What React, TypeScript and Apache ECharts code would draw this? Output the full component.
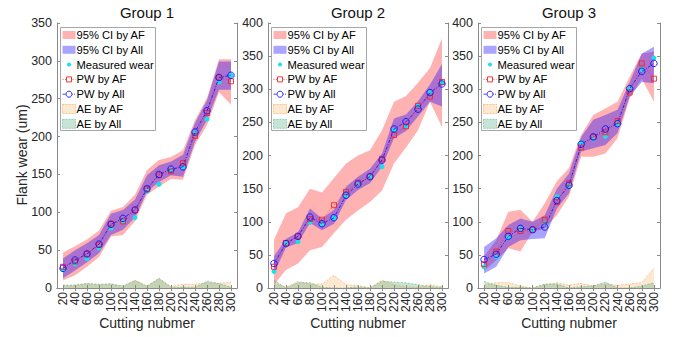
import React, { useEffect, useRef } from "react";
import * as echarts from "echarts";

const categories = ["20","40","60","80","100","120","140","160","180","200","220","240","260","280","300"];
const groupTitles = ["Group 1", "Group 2", "Group 3"];
const yMax = [350, 400, 400];

// Group 1
const measured1 = [24, 32, 39, 53, 79, 88, 93, 128, 137, 156, 160, 205, 223, 272, 281];
const pwAF1 = [28, 35, 45, 57, 85, 88, 103, 131, 149, 154, 165, 201, 231, 278, 273];
const pwAll1 = [26, 37, 45, 58, 84, 92, 103, 131, 150, 157, 160, 206, 234, 278, 281];
const ciAFLo1 = [10, 17, 28, 41, 68, 70, 88, 123, 134, 144, 143, 189, 215, 259, 242];
const ciAFHi1 = [47, 55, 64, 76, 102, 107, 123, 156, 169, 173, 182, 222, 251, 302, 302];
const ciAllLo1 = [13, 23, 34, 46, 70, 77, 93, 127, 140, 149, 147, 193, 222, 262, 262];
const ciAllHi1 = [39, 50, 59, 70, 98, 103, 117, 149, 162, 167, 176, 218, 248, 299, 299];
const aeAF1 = [4, 3, 6, 4, 6, 1, 10, 3, 12, 2, 5, 5, 7, 6, 8];
const aeAll1 = [3, 4, 6, 5, 5, 3, 10, 2, 13, 1, 1, 1, 9, 6, 1];

// Group 2
const measured2 = [25, 67, 70, 99, 97, 106, 140, 156, 168, 183, 238, 244, 275, 295, 309];
const pwAF2 = [32, 68, 78, 104, 103, 125, 145, 159, 168, 195, 231, 244, 275, 289, 311];
const pwAll2 = [37, 67, 78, 107, 97, 106, 140, 157, 168, 193, 240, 251, 270, 295, 308];
const ciAFLo2 = [5, 27, 37, 57, 62, 83, 103, 117, 130, 147, 188, 212, 238, 281, 243];
const ciAFHi2 = [73, 113, 122, 150, 144, 166, 188, 200, 208, 238, 281, 290, 310, 332, 377];
const ciAllLo2 = [22, 61, 68, 98, 87, 97, 133, 148, 158, 183, 226, 237, 259, 281, 274];
const ciAllHi2 = [48, 74, 84, 120, 105, 118, 153, 168, 180, 203, 256, 262, 282, 307, 338];
const aeAF2 = [7, 1, 10, 6, 6, 19, 5, 4, 0, 12, 5, 2, 1, 5, 2];
const aeAll2 = [12, 0, 8, 8, 1, 0, 0, 2, 0, 10, 9, 8, 5, 2, 1];

// Group 3
const measured3 = [32, 47, 76, 89, 88, 98, 138, 154, 219, 225, 229, 248, 301, 330, 347];
const pwAF3 = [36, 55, 86, 86, 88, 103, 130, 158, 212, 228, 235, 252, 295, 339, 316];
const pwAll3 = [43, 51, 78, 90, 88, 92, 132, 155, 217, 228, 240, 248, 301, 327, 339];
const ciAFLo3 = [26, 42, 60, 55, 85, 90, 110, 138, 198, 198, 203, 226, 286, 316, 281];
const ciAFHi3 = [48, 72, 115, 118, 100, 128, 161, 181, 231, 261, 271, 281, 319, 354, 357];
const ciAllLo3 = [22, 32, 62, 72, 74, 75, 120, 143, 206, 211, 216, 234, 289, 311, 309];
const ciAllHi3 = [62, 75, 95, 105, 100, 110, 150, 173, 228, 254, 261, 269, 311, 354, 364];
const aeAF3 = [4, 8, 8, 3, 0, 5, 8, 4, 7, 3, 6, 4, 6, 8, 30];
const aeAll3 = [10, 4, 1, 1, 0, 6, 6, 0, 2, 3, 9, 0, 0, 3, 8];

const legendNames = ["95% CI by AF", "95% CI by All", "Measured wear", "PW by AF", "PW by All", "AE by AF", "AE by All"];

const groups = [
  { measured: measured1, pwAF: pwAF1, pwAll: pwAll1, ciAFLo: ciAFLo1, ciAFHi: ciAFHi1, ciAllLo: ciAllLo1, ciAllHi: ciAllHi1, aeAF: aeAF1, aeAll: aeAll1 },
  { measured: measured2, pwAF: pwAF2, pwAll: pwAll2, ciAFLo: ciAFLo2, ciAFHi: ciAFHi2, ciAllLo: ciAllLo2, ciAllHi: ciAllHi2, aeAF: aeAF2, aeAll: aeAll2 },
  { measured: measured3, pwAF: pwAF3, pwAll: pwAll3, ciAFLo: ciAFLo3, ciAFHi: ciAFHi3, ciAllLo: ciAllLo3, ciAllHi: ciAllHi3, aeAF: aeAF3, aeAll: aeAll3 },
];

const FONT = "'Liberation Sans', Arial, Helvetica, sans-serif";
const PINK = "rgba(255,0,0,0.3)";
const BLUE = "rgba(20,0,255,0.36)";
const CYAN = "#19e0ea";
const ORANGE_FILL = "rgba(245,150,40,0.22)";
const ORANGE_EDGE = "rgba(240,160,80,0.7)";
const GREEN_FILL = "rgba(40,150,100,0.26)";
const GREEN_EDGE = "rgba(80,180,150,0.7)";
const AXIS = "#8a8a8a";
const LABEL = "#262626";

const gridLefts = [57, 268, 478];
const gridWidths = [180, 180, 182];
const GRID_TOP = 23;
const GRID_H = 265;

function bandSeries(g: number, lo: number[], hi: number[], color: string, z: number) {
  return {
    type: "custom",
    xAxisIndex: g * 2,
    yAxisIndex: g * 2,
    data: [[0, lo[0]]],
    silent: true,
    z,
    renderItem: (_params: any, api: any) => {
      const top = hi.map((v, i) => api.coord([i, v]));
      const bot = lo.map((v, i) => api.coord([i, v])).reverse();
      return { type: "polygon", shape: { points: top.concat(bot) }, style: { fill: color } };
    },
  };
}

function legendEls(x0: number, y0: number) {
  const els: any[] = [];
  const Z = 100;
  els.push({ type: "rect", z: Z, shape: { x: x0 + 0.5, y: y0 + 0.5, width: 95, height: 103 }, style: { fill: "#fff", stroke: "#a6a6a6", lineWidth: 1 } });
  const rowY = (i: number) => y0 + 8 + i * 14.8;
  const ix0 = x0 + 2.5, iw = 13, icx = x0 + 9;
  els.push({ type: "rect", z: Z + 1, shape: { x: ix0, y: rowY(0) - 4, width: iw, height: 8 }, style: { fill: PINK } });
  els.push({ type: "rect", z: Z + 1, shape: { x: ix0, y: rowY(1) - 4, width: iw, height: 8 }, style: { fill: BLUE } });
  els.push({ type: "circle", z: Z + 1, shape: { cx: icx, cy: rowY(2), r: 2 }, style: { fill: CYAN } });
  els.push({ type: "line", z: Z + 1, shape: { x1: ix0, y1: rowY(3), x2: ix0 + iw, y2: rowY(3) }, style: { stroke: "#ff2020", lineWidth: 0.8, lineDash: [1, 1.5] } });
  els.push({ type: "rect", z: Z + 2, shape: { x: icx - 2.5, y: rowY(3) - 2.5, width: 5, height: 5 }, style: { fill: "#fff", stroke: "#ff2020", lineWidth: 0.9 } });
  els.push({ type: "line", z: Z + 1, shape: { x1: ix0, y1: rowY(4), x2: ix0 + iw, y2: rowY(4) }, style: { stroke: "#1010ff", lineWidth: 0.8, lineDash: [3, 1.5, 1, 1.5] } });
  els.push({ type: "circle", z: Z + 2, shape: { cx: icx, cy: rowY(4), r: 3 }, style: { fill: "#fff", stroke: "#1010ff", lineWidth: 0.9 } });
  els.push({ type: "rect", z: Z + 1, shape: { x: ix0, y: rowY(5) - 4.5, width: iw, height: 9 }, style: { fill: ORANGE_FILL, stroke: ORANGE_EDGE, lineWidth: 0.8, lineDash: [2, 1] } });
  els.push({ type: "rect", z: Z + 1, shape: { x: ix0, y: rowY(6) - 4.5, width: iw, height: 9 }, style: { fill: GREEN_FILL, stroke: GREEN_EDGE, lineWidth: 0.8, lineDash: [2, 1] } });
  legendNames.forEach((name, i) => {
    els.push({
      type: "text", z: Z + 1, x: x0 + 16.5, y: rowY(i),
      style: { text: name, fill: "#000", font: `normal 11.2px ${FONT}`, textVerticalAlign: "middle", verticalAlign: "middle", textAlign: "left" },
    });
  });
  return els;
}

export default function App() {
  const ref = useRef<HTMLDivElement>(null);
  useEffect(() => {
    if (!ref.current) return;
    const chart = echarts.init(ref.current, null, { renderer: "svg" });
    const grid: any[] = [];
    const xAxis: any[] = [];
    const yAxis: any[] = [];
    const series: any[] = [];
    const graphic: any[] = [];

    groups.forEach((d, g) => {
      grid.push({ left: gridLefts[g], top: GRID_TOP, width: gridWidths[g], height: GRID_H, containLabel: false });
      const xBase = {
        type: "category", gridIndex: g, data: categories, boundaryGap: true,
        axisLine: { show: true, lineStyle: { color: AXIS, width: 1 } },
        axisTick: { show: true, inside: true, alignWithLabel: true, length: 3, interval: 0, lineStyle: { color: AXIS } },
        splitLine: { show: false },
      };
      xAxis.push({ ...xBase, position: "bottom", axisLabel: { show: true, rotate: 90, interval: 0, fontSize: 12, color: LABEL, margin: 4, fontFamily: FONT } });
      xAxis.push({ ...xBase, position: "top", axisLabel: { show: false } });
      const yBase = {
        type: "value", gridIndex: g, min: 0, max: yMax[g], interval: 50,
        axisLine: { show: true, lineStyle: { color: AXIS, width: 1 } },
        axisTick: { show: true, inside: true, length: 3, lineStyle: { color: AXIS } },
        splitLine: { show: false },
      };
      yAxis.push({ ...yBase, position: "left", axisLabel: { show: true, fontSize: 12.5, color: LABEL, margin: 5, fontFamily: FONT } });
      yAxis.push({ ...yBase, position: "right", axisLabel: { show: false } });

      const xi = g * 2, yi = g * 2;
      series.push(bandSeries(g, d.ciAFLo, d.ciAFHi, PINK, 1));
      series.push(bandSeries(g, d.ciAllLo, d.ciAllHi, BLUE, 2));
      series.push({
        type: "line", name: "AE by AF", xAxisIndex: xi, yAxisIndex: yi, data: d.aeAF, symbol: "none", z: 3,
        lineStyle: { color: ORANGE_EDGE, width: 0.8, type: [2, 1.5] }, areaStyle: { color: ORANGE_FILL, opacity: 1 },
      });
      series.push({
        type: "line", name: "AE by All", xAxisIndex: xi, yAxisIndex: yi, data: d.aeAll, symbol: "none", z: 3,
        lineStyle: { color: GREEN_EDGE, width: 0.8, type: [2, 1.5] }, areaStyle: { color: GREEN_FILL, opacity: 1 },
      });
      series.push({
        type: "scatter", name: "Measured wear", xAxisIndex: xi, yAxisIndex: yi, data: d.measured, symbol: "circle", symbolSize: 5, z: 5,
        itemStyle: { color: CYAN, opacity: 1 },
      });
      series.push({
        type: "line", name: "PW by AF", xAxisIndex: xi, yAxisIndex: yi, data: d.pwAF, symbol: "rect", symbolSize: 5, showAllSymbol: true, z: 6,
        lineStyle: { color: "#ff3030", width: 0.8, type: [1, 1.5] },
        itemStyle: { color: "rgba(0,0,0,0)", borderColor: "#ff2020", borderWidth: 0.9 },
      });
      series.push({
        type: "line", name: "PW by All", xAxisIndex: xi, yAxisIndex: yi, data: d.pwAll, symbol: "circle", symbolSize: 6.5, showAllSymbol: true, z: 7,
        lineStyle: { color: "#1010ff", width: 0.8, type: [3, 1.5, 1, 1.5] },
        itemStyle: { color: "rgba(0,0,0,0)", borderColor: "#1010ff", borderWidth: 0.9 },
      });

      const cx = gridLefts[g] + gridWidths[g] / 2;
      graphic.push({ type: "text", x: cx, y: 12, style: { text: groupTitles[g], fill: "#111", font: `normal 400 15px ${FONT}`, textAlign: "center", textVerticalAlign: "middle", verticalAlign: "middle" } });
      graphic.push({ type: "text", x: cx, y: 323, style: { text: "Cutting nubmer", fill: LABEL, font: `normal 400 14px ${FONT}`, textAlign: "center", textVerticalAlign: "middle", verticalAlign: "middle" } });
      graphic.push(...legendEls(gridLefts[g] + 3, 27));
    });

    graphic.push({ type: "text", x: 22, y: 155, rotation: Math.PI / 2, style: { text: "Flank wear (um)", fill: LABEL, font: `normal 400 14px ${FONT}`, textAlign: "center", textVerticalAlign: "middle", verticalAlign: "middle" } });

    chart.setOption({
      animation: false,
      backgroundColor: "#ffffff",
      textStyle: { fontFamily: FONT },
      grid, xAxis, yAxis, series, graphic,
    });
    return () => chart.dispose();
  }, []);
  return <div ref={ref} style={{ position: "fixed", left: 0, top: 0, width: 677, height: 337, background: "#fff" }} />;
}
